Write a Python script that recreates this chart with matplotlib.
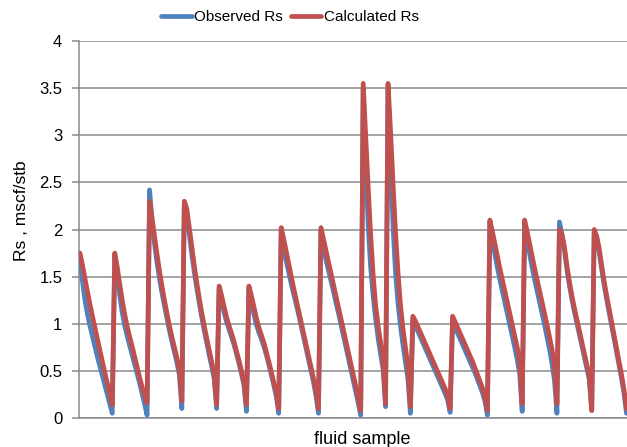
import numpy as np
import matplotlib.pyplot as plt

# Rs values (mscf/stb) per fluid sample, one list per depletion run
calc_runs = [
    [1.75, 1.62, 1.48, 1.34, 1.21, 1.08, 0.96, 0.84, 0.72, 0.60, 0.48, 0.37, 0.26, 0.14],
    [1.75, 1.60, 1.42, 1.25, 1.10, 0.97, 0.86, 0.76, 0.65, 0.54, 0.43, 0.33, 0.24, 0.16],
    [2.30, 2.12, 1.93, 1.74, 1.56, 1.40, 1.25, 1.11, 0.98, 0.86, 0.75, 0.64, 0.52, 0.18],
    [2.30, 2.22, 2.02, 1.82, 1.62, 1.44, 1.27, 1.12, 0.98, 0.85, 0.72, 0.60, 0.47, 0.14],
    [1.40, 1.30, 1.18, 1.07, 0.98, 0.90, 0.81, 0.71, 0.61, 0.50, 0.38, 0.14],
    [1.40, 1.30, 1.18, 1.06, 0.96, 0.88, 0.80, 0.70, 0.60, 0.49, 0.38, 0.27, 0.10],
    [2.02, 1.90, 1.77, 1.64, 1.51, 1.38, 1.26, 1.14, 1.02, 0.90, 0.78, 0.66, 0.54, 0.42,
     0.28, 0.10],
    [2.02, 1.90, 1.78, 1.66, 1.54, 1.42, 1.30, 1.18, 1.06, 0.94, 0.82, 0.70, 0.58, 0.46,
     0.34, 0.22, 0.08],
    [3.55, 3.00, 2.45, 1.95, 1.52, 1.20, 0.98, 0.80, 0.62, 0.15],
    [3.55, 3.05, 2.50, 1.98, 1.55, 1.20, 0.95, 0.75, 0.55, 0.12],
    [1.08, 1.03, 0.97, 0.91, 0.85, 0.79, 0.73, 0.67, 0.61, 0.55, 0.49, 0.43, 0.37, 0.31,
     0.24, 0.10],
    [1.08, 1.02, 0.96, 0.90, 0.84, 0.78, 0.72, 0.66, 0.60, 0.53, 0.46, 0.39, 0.32, 0.22,
     0.08],
    [2.10, 1.98, 1.85, 1.72, 1.59, 1.47, 1.35, 1.23, 1.11, 0.99, 0.87, 0.75, 0.60, 0.15],
    [2.10, 1.98, 1.85, 1.72, 1.59, 1.47, 1.35, 1.23, 1.11, 0.99, 0.86, 0.73, 0.56, 0.15],
    [2.00, 1.95, 1.82, 1.62, 1.45, 1.30, 1.17, 1.05, 0.93, 0.81, 0.69, 0.57, 0.45, 0.08],
    [2.00, 1.93, 1.80, 1.62, 1.45, 1.30, 1.16, 1.02, 0.88, 0.74, 0.60, 0.46, 0.30, 0.10],
]
obs_runs = [
    [1.70, 1.45, 1.25, 1.10, 0.98, 0.87, 0.76, 0.65, 0.55, 0.45, 0.35, 0.25, 0.15, 0.05],
    [1.72, 1.52, 1.30, 1.12, 0.98, 0.87, 0.77, 0.67, 0.57, 0.47, 0.37, 0.26, 0.15, 0.03],
    [2.42, 2.10, 1.85, 1.65, 1.48, 1.33, 1.19, 1.06, 0.93, 0.81, 0.70, 0.59, 0.46, 0.10],
    [2.28, 2.15, 1.95, 1.74, 1.55, 1.38, 1.22, 1.07, 0.93, 0.80, 0.67, 0.55, 0.42, 0.10],
    [1.38, 1.25, 1.12, 1.02, 0.94, 0.86, 0.78, 0.68, 0.58, 0.47, 0.35, 0.07],
    [1.38, 1.25, 1.10, 0.99, 0.91, 0.84, 0.76, 0.67, 0.57, 0.46, 0.35, 0.23, 0.05],
    [2.00, 1.80, 1.67, 1.55, 1.43, 1.32, 1.21, 1.10, 0.98, 0.86, 0.74, 0.62, 0.50, 0.38,
     0.24, 0.05],
    [2.00, 1.80, 1.68, 1.57, 1.46, 1.35, 1.23, 1.12, 1.00, 0.88, 0.76, 0.64, 0.52, 0.40,
     0.28, 0.16, 0.03],
    [3.50, 2.70, 2.05, 1.60, 1.30, 1.05, 0.85, 0.68, 0.52, 0.12],
    [3.50, 2.75, 2.05, 1.55, 1.22, 0.98, 0.78, 0.60, 0.42, 0.05],
    [1.05, 0.98, 0.92, 0.86, 0.80, 0.74, 0.68, 0.62, 0.56, 0.50, 0.44, 0.38, 0.32, 0.26,
     0.19, 0.06],
    [1.05, 0.96, 0.90, 0.84, 0.78, 0.72, 0.66, 0.60, 0.54, 0.48, 0.41, 0.34, 0.27, 0.18,
     0.03],
    [2.08, 1.90, 1.74, 1.60, 1.47, 1.35, 1.23, 1.11, 0.99, 0.87, 0.75, 0.62, 0.47, 0.07],
    [2.08, 1.90, 1.74, 1.60, 1.47, 1.35, 1.23, 1.11, 0.99, 0.86, 0.73, 0.58, 0.40, 0.05],
    [2.08, 1.95, 1.78, 1.58, 1.41, 1.26, 1.13, 1.01, 0.89, 0.77, 0.65, 0.53, 0.41, 0.08],
    [1.98, 1.90, 1.76, 1.58, 1.41, 1.26, 1.12, 0.98, 0.84, 0.70, 0.56, 0.42, 0.26, 0.05],
]
y_ticks = [0, 0.5, 1, 1.5, 2, 2.5, 3, 3.5, 4]
y_tick_labels = ['0', '0.5', '1', '1.5', '2', '2.5', '3', '3.5', '4']

calc = np.concatenate(calc_runs)
obs = np.concatenate(obs_runs)
x = np.arange(len(calc))

plt.rcParams['font.family'] = ['Liberation Sans', 'DejaVu Sans']

fig = plt.figure(figsize=(6.27, 4.47), dpi=100)
ax = fig.add_axes([79 / 627, 1 - 418 / 447, 1 - 79 / 627, (418 - 41) / 447])

grid_c = '#8a8a8a'
ax.plot(x, obs, color='#4F81BD', lw=3.4, label='Observed Rs', solid_capstyle='round',
        solid_joinstyle='round', zorder=3)
ax.plot(x, calc, color='#C0504D', lw=3.4, label='Calculated Rs', solid_capstyle='round',
        solid_joinstyle='round', zorder=4)

ax.set_ylim(0, 4)
ax.set_xlim(-0.4, len(x) - 0.8)
ax.set_yticks(y_ticks)
ax.set_yticklabels(y_tick_labels, fontsize=12)
ax.set_xticks([])
ax.yaxis.grid(True, color=grid_c, lw=1.1)
ax.set_axisbelow(True)
ax.tick_params(axis='y', length=5, width=1.1, color=grid_c, pad=7)
for side in ['top', 'right']:
    ax.spines[side].set_visible(False)
ax.spines['left'].set_color(grid_c)
ax.spines['bottom'].set_color(grid_c)
ax.spines['left'].set_linewidth(1.1)
ax.spines['bottom'].set_linewidth(1.1)

fig.text(22 / 627, 1 - 211 / 447, 'Rs , mscf/stb', rotation=90, fontsize=12.5,
         ha='center', va='center')
fig.text(362 / 627, 1 - 444 / 447, 'fluid sample', fontsize=13,
         ha='center', va='baseline')

fig.legend(loc='center', bbox_to_anchor=(290 / 627, 1 - 17 / 447), ncol=2,
           frameon=False, fontsize=11, handlelength=2.0, handletextpad=0.15,
           columnspacing=0.5, borderaxespad=0)

fig.savefig('out.png', dpi=100)
